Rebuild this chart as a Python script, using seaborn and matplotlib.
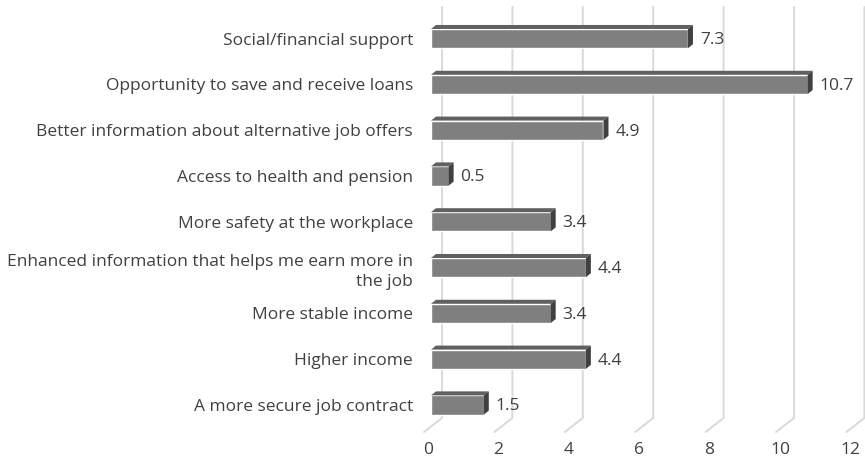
import matplotlib
matplotlib.use("Agg")
import matplotlib.pyplot as plt
import matplotlib.transforms as mtransforms
from matplotlib.patches import Polygon
import seaborn as sns
import pandas as pd

categories = [
    "Social/financial support",
    "Opportunity to save and receive loans",
    "Better information about alternative job offers",
    "Access to health and pension",
    "More safety at the workplace",
    "Enhanced information that helps me earn more in\nthe job",
    "More stable income",
    "Higher income",
    "A more secure job contract",
]
values = [7.3, 10.7, 4.9, 0.5, 3.4, 4.4, 3.4, 4.4, 1.5]
x_ticks = [0, 2, 4, 6, 8, 10, 12]

sns.set_theme(style="white")
plt.rcParams["font.family"] = ["Open Sans", "DejaVu Sans"]
TEXT = "#404040"
FS = 12.5

W, H = 865, 466
fig = plt.figure(figsize=(W / 100, H / 100), dpi=100)

# plot area in pixels (from the top-left corner)
ax_left, ax_right = 431, 431 + 12 * 35.2
ax_top, ax_bot = 15.7, 427.9
ax = fig.add_axes([ax_left / W, (H - ax_bot) / H,
                   (ax_right - ax_left) / W, (ax_bot - ax_top) / H])

df = pd.DataFrame({"category": categories, "value": values})
sns.barplot(data=df, x="value", y="category", orient="h", color="#7f7f7f",
            saturation=1, width=0.42, ax=ax, zorder=3)

ax.set_xlim(0, 12)
ax.set_ylim(len(categories) - 0.5, -0.5)
for s in ax.spines.values():
    s.set_visible(False)
ax.set_xlabel("")
ax.set_ylabel("")


def ay(p):
    """axes fraction for a pixel row measured from the top"""
    return (ax_bot - p) / (ax_bot - ax_top)


# back wall and floor grid lines of the 3-D frame
grid_col = "#d9d9d9"
px = (ax_right - ax_left) / 12
back_dx, front_dx = 11 / px, -7 / px
blend = mtransforms.blended_transform_factory(ax.transData, ax.transAxes)
for v in x_ticks:
    ax.plot([v + back_dx, v + back_dx, v + front_dx],
            [ay(7), ay(418), ay(432)], color=grid_col, lw=1.4,
            transform=blend, clip_on=False, zorder=1)

# depth faces of each bar
fig.canvas.draw()
inv = ax.transData.inverted()
o = inv.transform((0, 0))
d = inv.transform((5, 4))
ddx, ddy = d[0] - o[0], d[1] - o[1]
for bar in ax.patches:
    x0, y0 = bar.get_x(), bar.get_y()
    w, h = bar.get_width(), bar.get_height()
    top = y0  # inverted y: smaller value is higher on screen
    x1 = x0 + w
    ax.add_patch(Polygon([(x0, top), (x1, top), (x1 + ddx, top + ddy), (x0 + ddx, top + ddy)],
                         closed=True, facecolor="#606060", edgecolor="none",
                         zorder=3, clip_on=False))
    ax.add_patch(Polygon([(x1, top), (x1 + ddx, top + ddy), (x1 + ddx, top + h + ddy), (x1, top + h)],
                         closed=True, facecolor="#404040", edgecolor="none",
                         zorder=3, clip_on=False))
    ax.text(x1 + 12 / px, y0 + h / 2 + 0.03, f"{w:g}", ha="left", va="center",
            fontsize=FS, color=TEXT, zorder=4)

ax.set_xticks(x_ticks)
ax.set_xticklabels([str(v) for v in x_ticks])
ax.tick_params(axis="x", length=0, pad=10, labelsize=FS, labelcolor=TEXT)
ax.tick_params(axis="y", length=0, pad=13, labelsize=FS, labelcolor=TEXT)
shift = mtransforms.ScaledTranslation(-3 / 100, 0, fig.dpi_scale_trans)
for lab in ax.get_xticklabels():
    lab.set_transform(lab.get_transform() + shift)
for lab in ax.get_yticklabels():
    lab.set_linespacing(1.4)

fig.savefig("out.png", dpi=100)
